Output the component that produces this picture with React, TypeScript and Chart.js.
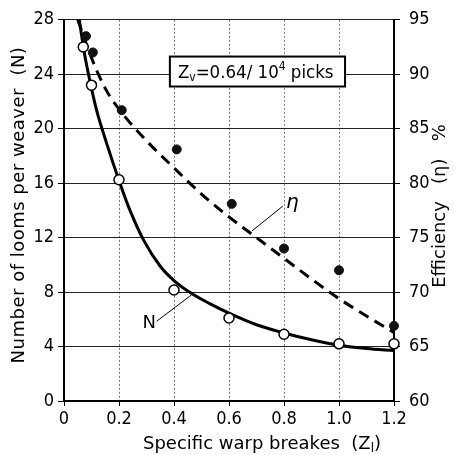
import React, { useEffect, useRef } from "react";
import { Chart, registerables } from "chart.js";

Chart.register(...registerables);

// ---- data ----
const nPointsX = [0.07, 0.1, 0.2, 0.4, 0.6, 0.8, 1.0, 1.2];
const nPointsY = [26.0, 23.2, 16.25, 8.15, 6.1, 4.9, 4.2, 4.2];
const etaPointsX = [0.08, 0.105, 0.21, 0.41, 0.61, 0.8, 1.0, 1.2];
const etaPointsY = [93.5, 92.0, 86.7, 83.1, 78.1, 74.0, 72.0, 66.9];
const nCurveX = [0.05, 0.072, 0.088, 0.118, 0.154, 0.2, 0.24, 0.29, 0.35, 0.4, 0.46, 0.53, 0.6, 0.7, 0.8, 0.9, 1.0, 1.1, 1.2];
const nCurveY = [28.8, 25.8, 24.1, 21.4, 19.0, 16.2, 14.0, 11.8, 9.9, 8.85, 7.95, 7.15, 6.45, 5.6, 5.0, 4.5, 4.1, 3.85, 3.7];
const etaCurveX = [0.05, 0.1, 0.15, 0.2, 0.3, 0.4, 0.5, 0.6, 0.7, 0.8, 0.9, 1.0, 1.1, 1.2];
const etaCurveY = [95.0, 91.5, 88.7, 86.8, 83.9, 81.4, 79.0, 76.9, 75.0, 73.1, 71.2, 69.4, 67.8, 66.3];
const xTicks = [0, 0.2, 0.4, 0.6, 0.8, 1.0, 1.2];
const xTickLabels = ["0", "0.2", "0.4", "0.6", "0.8", "1.0", "1.2"];
const xTitle = "Specific warp breakes  (Z";
const xTitleSub = "l";
const yTitle = "Number of looms per weaver  (N)";
const y2Title = "Efficiency   (η)   %";
const boxParts = ["Z", "v", "=0.64/ 10", "4", " picks"];

const FONT = '"DejaVu Sans Condensed", "DejaVu Sans", sans-serif';
const TFONT = '"DejaVu Sans", sans-serif';

const zip = (xs: number[], ys: number[]) => xs.map((x, i) => ({ x, y: ys[i] }));

const annotations = {
  id: "annotations",
  afterDatasetsDraw(chart: any) {
    const ctx = chart.ctx as CanvasRenderingContext2D;
    const xs = chart.scales.x;
    const ys = chart.scales.y;
    const y2 = chart.scales.y2;
    ctx.save();
    ctx.fillStyle = "#000";
    ctx.strokeStyle = "#000";

    // text box
    const bx1 = xs.getPixelForValue(0.385);
    const bx2 = xs.getPixelForValue(1.022);
    const by1 = ys.getPixelForValue(25.3);
    const by2 = ys.getPixelForValue(23.1);
    ctx.fillStyle = "#fff";
    ctx.fillRect(bx1, by1, bx2 - bx1, by2 - by1);
    ctx.lineWidth = 2;
    ctx.strokeRect(bx1, by1, bx2 - bx1, by2 - by1);
    ctx.fillStyle = "#000";
    ctx.textBaseline = "alphabetic";
    ctx.textAlign = "left";
    let tx = bx1 + 8;
    const base = by2 - 9;
    const big = `18.5px ${FONT}`;
    const small = `12px ${FONT}`;
    ctx.font = big; ctx.fillText(boxParts[0], tx, base); tx += ctx.measureText(boxParts[0]).width;
    ctx.font = small; ctx.fillText(boxParts[1], tx, base + 3); tx += ctx.measureText(boxParts[1]).width;
    ctx.font = big; ctx.fillText(boxParts[2], tx, base); tx += ctx.measureText(boxParts[2]).width;
    ctx.font = small; ctx.fillText(boxParts[3], tx, base - 8); tx += ctx.measureText(boxParts[3]).width;
    ctx.font = big; ctx.fillText(boxParts[4], tx, base);

    // N label with leader
    ctx.lineWidth = 1;
    ctx.beginPath();
    ctx.moveTo(xs.getPixelForValue(0.337), ys.getPixelForValue(5.86));
    ctx.lineTo(xs.getPixelForValue(0.464), ys.getPixelForValue(7.8));
    ctx.stroke();
    ctx.font = `18px ${TFONT}`;
    ctx.textAlign = "center";
    ctx.textBaseline = "middle";
    ctx.fillText("N", xs.getPixelForValue(0.31), ys.getPixelForValue(5.7));

    // eta label with leader
    ctx.beginPath();
    ctx.moveTo(xs.getPixelForValue(0.796), y2.getPixelForValue(77.9));
    ctx.lineTo(xs.getPixelForValue(0.683), y2.getPixelForValue(75.6));
    ctx.stroke();
    ctx.font = `italic 20px ${TFONT}`;
    ctx.fillText("η", xs.getPixelForValue(0.83), y2.getPixelForValue(78.2));

    // x title
    ctx.font = `18px ${TFONT}`;
    ctx.textBaseline = "alphabetic";
    ctx.textAlign = "left";
    const w1 = ctx.measureText(xTitle).width;
    ctx.font = `12px ${TFONT}`;
    const w2 = ctx.measureText(xTitleSub).width;
    ctx.font = `18px ${TFONT}`;
    const w3 = ctx.measureText(")").width;
    let sx = 262 - (w1 + w2 + w3) / 2;
    const sb = 449;
    ctx.fillText(xTitle, sx, sb); sx += w1;
    ctx.font = `12px ${TFONT}`; ctx.fillText(xTitleSub, sx, sb + 3); sx += w2;
    ctx.font = `18px ${TFONT}`; ctx.fillText(")", sx, sb);

    // left title
    ctx.save();
    ctx.translate(19, 205);
    ctx.rotate(-Math.PI / 2);
    ctx.textAlign = "center";
    ctx.textBaseline = "middle";
    (ctx as any).letterSpacing = "0.5px";
    ctx.fillText(yTitle, 0, 0);
    ctx.restore();

    // right title
    ctx.save();
    ctx.translate(440, 206);
    ctx.rotate(-Math.PI / 2);
    ctx.textAlign = "center";
    ctx.textBaseline = "middle";
    ctx.font = `18px ${TFONT}`;
    ctx.fillText(y2Title, 0, 0);
    ctx.restore();

    ctx.restore();
  },
};

export default function App() {
  const ref = useRef<HTMLCanvasElement>(null);
  useEffect(() => {
    if (!ref.current) return;
    const tickFont = { family: FONT, size: 18 };
    const chart = new Chart(ref.current, {
      type: "scatter",
      data: {
        datasets: [
          {
            label: "N points",
            data: zip(nPointsX, nPointsY),
            yAxisID: "y",
            showLine: false,
            clip: false,
            pointRadius: 5,
            pointBackgroundColor: "#fff",
            pointBorderColor: "#000",
            pointBorderWidth: 1.5,
          },
          {
            label: "eta points",
            data: zip(etaPointsX, etaPointsY),
            yAxisID: "y2",
            showLine: false,
            clip: false,
            pointRadius: 4.5,
            pointBackgroundColor: "#111",
            pointBorderColor: "#111",
            pointBorderWidth: 1,
          },
          {
            label: "N",
            data: zip(nCurveX, nCurveY),
            yAxisID: "y",
            showLine: true,
            pointRadius: 0,
            borderColor: "#000",
            borderWidth: 3,
            cubicInterpolationMode: "monotone",
          },
          {
            label: "eta",
            data: zip(etaCurveX, etaCurveY),
            yAxisID: "y2",
            showLine: true,
            pointRadius: 0,
            borderColor: "#000",
            borderWidth: 3,
            borderDash: [11, 7],
            cubicInterpolationMode: "monotone",
          },
        ],
      },
      options: {
        responsive: false,
        animation: false,
        layout: { padding: { top: 14, left: 0, right: 0, bottom: 0 } },
        plugins: { legend: { display: false }, tooltip: { enabled: false } },
        scales: {
          x: {
            type: "linear",
            min: 0,
            max: 1.2,
            afterBuildTicks: (s: any) => {
              s.ticks = xTicks.map((v) => ({ value: v }));
            },
            afterFit: (s: any) => {
              s.height = 54;
            },
            ticks: {
              autoSkip: false,
              maxRotation: 0,
              font: tickFont,
              color: "#000",
              padding: 3,
              callback: (v: any) => {
                const i = xTicks.findIndex((t) => Math.abs(t - Number(v)) < 1e-6);
                return i >= 0 ? xTickLabels[i] : "";
              },
            },
            grid: { color: "#777", lineWidth: 1, tickLength: 5, tickColor: "#000" },
            border: { display: true, color: "#000", width: 2, dash: [2, 2] },
          },
          y: {
            type: "linear",
            position: "left",
            min: 0,
            max: 28,
            afterFit: (s: any) => {
              s.width = 64;
            },
            ticks: { stepSize: 4, font: tickFont, color: "#000", padding: 4 },
            grid: { color: "#222", lineWidth: 1, tickLength: 6, tickColor: "#000" },
            border: { display: true, color: "#000", width: 2 },
          },
          y2: {
            type: "linear",
            position: "right",
            min: 60,
            max: 95,
            afterFit: (s: any) => {
              s.width = 60;
            },
            ticks: { stepSize: 5, font: tickFont, color: "#000", padding: 9 },
            grid: { drawOnChartArea: false, tickLength: 6, tickColor: "#000", color: "#000" },
            border: { display: true, color: "#000", width: 2 },
          },
        },
      },
      plugins: [annotations],
    });
    return () => chart.destroy();
  }, []);
  return (
    <div style={{ position: "fixed", left: 0, top: 0, width: 454, height: 455, background: "#fff" }}>
      <canvas ref={ref} width={454} height={455} />
    </div>
  );
}
